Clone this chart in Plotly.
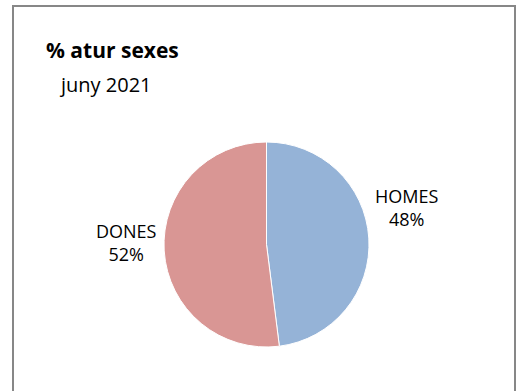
import plotly.graph_objects as go

# data
labels = ["HOMES", "DONES"]
values = [48, 52]
colors = ["#95B3D7", "#D99694"]
title = "% atur sexes"
subtitle = "juny 2021"

W, H = 527, 391
cx, cy, r = 266.5, 244.5, 102.5   # pie centre/radius in px (from top)
FONT = "Open Sans, Lato, sans-serif"

fig = go.Figure(go.Pie(
    labels=labels, values=values,
    marker=dict(colors=colors, line=dict(color="white", width=1)),
    sort=False, direction="clockwise", rotation=0,
    textinfo="none", hoverinfo="label+percent", showlegend=False,
    domain=dict(x=[(cx - r) / W, (cx + r) / W],
                y=[1 - (cy + r) / H, 1 - (cy - r) / H]),
))

total = sum(values)
pcts = [f"{round(v / total * 100)}%" for v in values]
label_pos = {"HOMES": (406.5, 207), "DONES": (126.5, 242)}
for lab, pc in zip(labels, pcts):
    x, y = label_pos[lab]
    fig.add_annotation(x=x / W, y=1 - y / H, xref="paper", yref="paper",
                       xanchor="center", yanchor="middle",
                       text=f"{lab}<br>{pc}", showarrow=False,
                       font=dict(size=18, color="#000000", family=FONT),
                       align="center")

fig.add_annotation(x=44 / W, y=1 - 50 / H, xref="paper", yref="paper",
                   xanchor="left", yanchor="middle",
                   text=f"<b>{title}</b>", showarrow=False,
                   font=dict(size=21, color="#000000", family=FONT))
fig.add_annotation(x=105 / W, y=1 - 85 / H, xref="paper", yref="paper",
                   xanchor="center", yanchor="middle",
                   text=subtitle, showarrow=False,
                   font=dict(size=20, color="#000000", family=FONT))

fig.add_shape(type="rect", xref="paper", yref="paper",
              x0=13 / W, x1=515 / W, y0=-0.05, y1=1 - 6 / H,
              line=dict(color="#878787", width=2))

fig.update_layout(width=W, height=H, margin=dict(l=0, r=0, t=0, b=0),
                  paper_bgcolor="white", plot_bgcolor="white",
                  font=dict(family=FONT))

fig.write_html("out.html", config={"displayModeBar": False},
               post_script="document.body.style.margin='0';")
